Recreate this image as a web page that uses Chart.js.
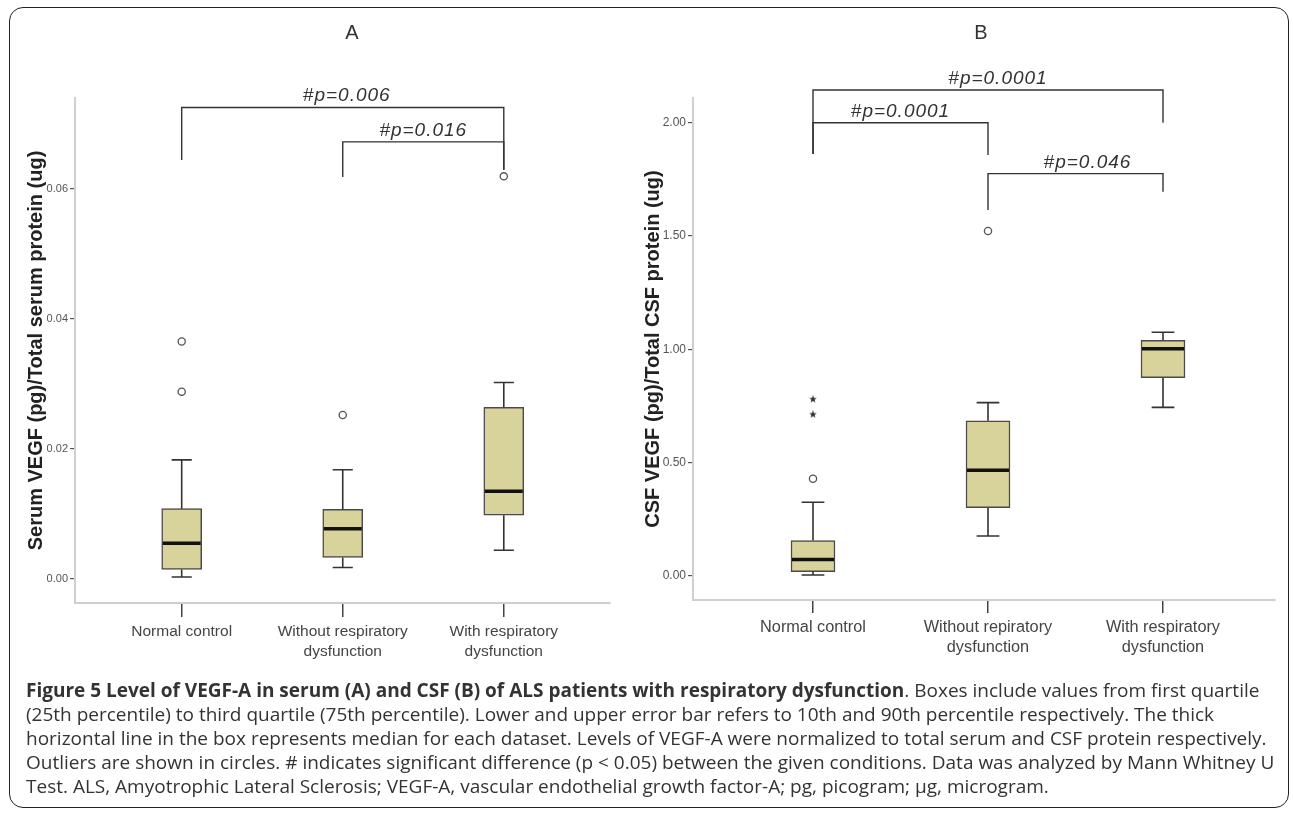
<!DOCTYPE html>
<html><head><meta charset="utf-8">
<script src="https://cdn.jsdelivr.net/npm/chart.js@4.4.1/dist/chart.umd.min.js"></script>
<style>
html,body{margin:0;padding:0;background:#fff;}
body{width:1293px;height:814px;position:relative;overflow:hidden;}
#frame{position:absolute;left:9px;top:7px;width:1280px;height:801px;border:1.5px solid #222;border-radius:14px;box-sizing:border-box;}
#cA{position:absolute;left:0;top:0;}
#cB{position:absolute;left:640px;top:0;}
#caption{position:absolute;left:26px;top:678px;font-family:"Open Sans",sans-serif;color:#333;font-size:16px;}
#caption div{height:24px;line-height:24px;white-space:nowrap;}
#caption span{display:inline-block;}
</style></head>
<body>
<div id="frame"></div>
<canvas id="cA" width="640" height="680"></canvas>
<canvas id="cB" width="653" height="680"></canvas>
<div id="caption">
<div><span><b>Figure 5 Level of VEGF-A in serum (A) and CSF (B) of ALS patients with respiratory dysfunction</b>. Boxes include values from first quartile</span></div>
<div><span>(25th percentile) to third quartile (75th percentile). Lower and upper error bar refers to 10th and 90th percentile respectively. The thick</span></div>
<div><span>horizontal line in the box represents median for each dataset. Levels of VEGF-A were normalized to total serum and CSF protein respectively.</span></div>
<div><span id="capRef">Outliers are shown in circles. # indicates significant difference (p &lt; 0.05) between the given conditions. Data was analyzed by Mann Whitney U</span></div>
<div><span>Test. ALS, Amyotrophic Lateral Sclerosis; VEGF-A, vascular endothelial growth factor-A; pg, picogram; μg, microgram.</span></div>
</div>
<script>
// ---------- DATA ----------
const serumCategories = [['Normal control'], ['Without respiratory', 'dysfunction'], ['With respiratory', 'dysfunction']];
const csfCategories = [['Normal control'], ['Without repiratory', 'dysfunction'], ['With respiratory', 'dysfunction']];

const serumTicks = [0, 0.02, 0.04, 0.06];
const serumTickLabels = ['0.00', '0.02', '0.04', '0.06'];
const csfTicks = [0, 0.5, 1.0, 1.5, 2.0];
const csfTickLabels = ['0.00', '0.50', '1.00', '1.50', '2.00'];

const serumLowerWhisker = [0.0003, 0.00175, 0.0044];
const serumQ1 = [0.00145, 0.0033, 0.0098];
const serumMedian = [0.0055, 0.0077, 0.0135];
const serumQ3 = [0.0108, 0.0107, 0.0264];
const serumUpperWhisker = [0.0183, 0.0168, 0.0302];
const serumOutliers = [[0.0365, 0.0288], [0.0252], [0.0619]];
const serumExtremes = [[], [], []];

const csfLowerWhisker = [0.003, 0.175, 0.743];
const csfQ1 = [0.018, 0.300, 0.874];
const csfMedian = [0.072, 0.465, 1.002];
const csfQ3 = [0.155, 0.684, 1.039];
const csfUpperWhisker = [0.324, 0.764, 1.075];
const csfOutliers = [[0.428], [1.522], []];
const csfExtremes = [[0.712, 0.779], [], []];

const serumBrackets = [
  {from: 0, to: 2, y: 0.0725, leftEnd: 0.0644, rightEnd: 0.0629, label: '#p=0.006'},
  {from: 1, to: 2, y: 0.0672, leftEnd: 0.0618, rightEnd: 0.0629, label: '#p=0.016'}
];
const csfBrackets = [
  {from: 0, to: 2, y: 2.144, leftEnd: 1.862, rightEnd: 2.0, label: '#p=0.0001'},
  {from: 0, to: 1, y: 2.0, leftEnd: 1.862, rightEnd: 1.857, label: '#p=0.0001'},
  {from: 1, to: 2, y: 1.775, leftEnd: 1.614, rightEnd: 1.695, label: '#p=0.046'}
];

// ---------- caption fit ----------
(function(){
  const cap = document.getElementById('caption');
  const ref = document.getElementById('capRef');
  const w = ref.getBoundingClientRect().width;
  cap.style.fontSize = (16 * 1249 / w) + 'px';
})();

const SANS = '"Liberation Sans", Arial, sans-serif';

function makeStar(r) {
  const c = document.createElement('canvas');
  c.width = c.height = 2 * r;
  const g = c.getContext('2d');
  g.fillStyle = '#333';
  g.beginPath();
  for (let k = 0; k < 10; k++) {
    const rr = k % 2 ? r * 0.42 : r;
    const a = -Math.PI / 2 + k * Math.PI / 5;
    g.lineTo(r + rr * Math.cos(a), r + rr * Math.sin(a));
  }
  g.closePath();
  g.fill();
  return c;
}
const starImg = makeStar(4);

const boxPlugin = {
  id: 'boxExtras',
  afterDraw(chart, args, o) {
    const {ctx} = chart;
    const x = chart.scales.x, y = chart.scales.y;
    const meta = chart.getDatasetMeta(0);
    ctx.save();
    // whiskers and caps
    ctx.strokeStyle = '#333';
    ctx.lineWidth = 1.6;
    o.lower.forEach((lo, i) => {
      const cx = x.getPixelForValue(i);
      const half = x.getPixelForValue(i + o.capUnits / 2) - cx;
      const yq1 = y.getPixelForValue(o.q1[i]);
      const yq3 = y.getPixelForValue(o.q3[i]);
      const ylo = y.getPixelForValue(lo);
      const yhi = y.getPixelForValue(o.upper[i]);
      ctx.beginPath();
      ctx.moveTo(cx, yq3); ctx.lineTo(cx, yhi);
      ctx.moveTo(cx - half, yhi); ctx.lineTo(cx + half, yhi);
      ctx.moveTo(cx, yq1); ctx.lineTo(cx, ylo);
      ctx.moveTo(cx - half, ylo); ctx.lineTo(cx + half, ylo);
      ctx.stroke();
    });
    // medians
    ctx.strokeStyle = '#111';
    ctx.lineWidth = 3.5;
    o.median.forEach((m, i) => {
      const el = meta.data[i];
      const ym = y.getPixelForValue(m);
      ctx.beginPath();
      ctx.moveTo(el.x - el.width / 2 + 1, ym);
      ctx.lineTo(el.x + el.width / 2 - 1, ym);
      ctx.stroke();
    });
    // brackets
    ctx.strokeStyle = '#333';
    ctx.lineWidth = 1.4;
    ctx.fillStyle = '#333';
    ctx.font = 'italic 19px ' + SANS;
    ctx.textAlign = 'center';
    ctx.textBaseline = 'alphabetic';
    try { ctx.letterSpacing = '1px'; } catch (e) {}
    o.brackets.forEach((b, k) => {
      const x1 = x.getPixelForValue(b.from), x2 = x.getPixelForValue(b.to);
      const yb = y.getPixelForValue(b.y);
      ctx.beginPath();
      ctx.moveTo(x1, y.getPixelForValue(b.leftEnd));
      ctx.lineTo(x1, yb);
      ctx.lineTo(x2, yb);
      ctx.lineTo(x2, y.getPixelForValue(b.rightEnd));
      ctx.stroke();
      ctx.fillText(b.label, (x1 + x2) / 2 + o.labelShift[k], yb - 6);
    });
    try { ctx.letterSpacing = '0px'; } catch (e) {}
    // panel letter
    ctx.font = '20px ' + SANS;
    ctx.fillStyle = '#333';
    ctx.textBaseline = 'middle';
    ctx.fillText(o.letter, o.letterX, 33);
    ctx.restore();
  }
};

function makeChart(id, p) {
  const boxData = p.q1.map((q, i) => ({x: i, y: [q, p.q3[i]]}));
  const outData = p.outliers.flatMap((a, i) => a.map(v => ({x: i, y: v})));
  const extData = p.extremes.flatMap((a, i) => a.map(v => ({x: i, y: v})));
  return new Chart(document.getElementById(id), {
    type: 'bar',
    data: {
      datasets: [
        {type: 'bar', data: boxData, backgroundColor: '#d7d39b', borderColor: '#4a4a4a', borderWidth: 1.5,
         borderSkipped: false, barThickness: p.boxPx, order: 2},
        {type: 'scatter', data: outData, pointStyle: 'circle', pointRadius: 3.6, pointBackgroundColor: '#fff',
         pointBorderColor: '#555', pointBorderWidth: 1.3, order: 1},
        {type: 'scatter', data: extData, pointStyle: starImg, pointRadius: 4, order: 1}
      ]
    },
    options: {
      responsive: false, animation: false, events: [],
      layout: {padding: {left: 0, top: 98, right: p.padRight, bottom: 0}},
      plugins: {
        legend: {display: false}, tooltip: {enabled: false},
        boxExtras: {lower: p.lower, q1: p.q1, median: p.median, q3: p.q3, upper: p.upper,
          capUnits: p.capUnits, brackets: p.brackets, labelShift: p.labelShift, letter: p.letter, letterX: p.letterX}
      },
      scales: {
        x: {
          type: 'linear', min: p.xMin, max: p.xMax, offset: false,
          afterBuildTicks: s => { s.ticks = p.cats.map((c, i) => ({value: i})); },
          afterFit: s => { s.height = p.xH; },
          ticks: {callback: v => p.cats[v], color: '#444', autoSkip: false, maxRotation: 0, padding: 5,
                  font: {family: SANS, size: p.xFont, lineHeight: 20 / p.xFont}},
          grid: {offset: false, drawOnChartArea: false, drawTicks: true, tickLength: p.xTickLen, color: '#444', lineWidth: 1.5},
          border: {color: '#cfcfcf', width: 2}
        },
        y: {
          type: 'linear', min: p.yMin, max: p.yMax,
          afterBuildTicks: s => { s.ticks = p.ticks.map(v => ({value: v})); },
          afterFit: s => { s.width = p.yW; },
          ticks: {callback: (v, i) => p.tickLabels[i], color: '#555', padding: 2,
                  font: {family: SANS, size: p.yFont}},
          grid: {offset: false, drawOnChartArea: false, drawTicks: true, tickLength: 5, color: '#555', lineWidth: 1.2},
          border: {color: '#cfcfcf', width: 2},
          title: {display: true, text: p.yTitle, color: '#222', padding: {top: p.titlePad, bottom: 0},
                  font: {family: SANS, weight: 'bold', size: 20, lineHeight: 1.2}}
        }
      }
    },
    plugins: [boxPlugin]
  });
}

makeChart('cA', {
  cats: serumCategories, ticks: serumTicks, tickLabels: serumTickLabels,
  lower: serumLowerWhisker, q1: serumQ1, median: serumMedian, q3: serumQ3, upper: serumUpperWhisker,
  outliers: serumOutliers, extremes: serumExtremes, brackets: serumBrackets, labelShift: [4, 0],
  yTitle: 'Serum VEGF (pg)/Total serum protein (ug)', letter: 'A', letterX: 352,
  xMin: -0.6625, xMax: 2.6595, yMin: -0.0037, yMax: 0.07395,
  padRight: 30, yW: 75, xH: 77, boxPx: 40, capUnits: 0.125, xFont: 15.5, xTickLen: 14, yFont: 11, titlePad: 24
});

makeChart('cB', {
  cats: csfCategories, ticks: csfTicks, tickLabels: csfTickLabels,
  lower: csfLowerWhisker, q1: csfQ1, median: csfMedian, q3: csfQ3, upper: csfUpperWhisker,
  outliers: csfOutliers, extremes: csfExtremes, brackets: csfBrackets, labelShift: [10, 0, 12],
  yTitle: 'CSF VEGF (pg)/Total CSF protein (ug)', letter: 'B', letterX: 341,
  xMin: -0.6857, xMax: 2.64, yMin: -0.1073, yMax: 2.109,
  padRight: 18, yW: 53, xH: 80, boxPx: 44, capUnits: 0.13, xFont: 16.3, xTickLen: 13, yFont: 12, titlePad: 1
});
</script>
</body></html>
